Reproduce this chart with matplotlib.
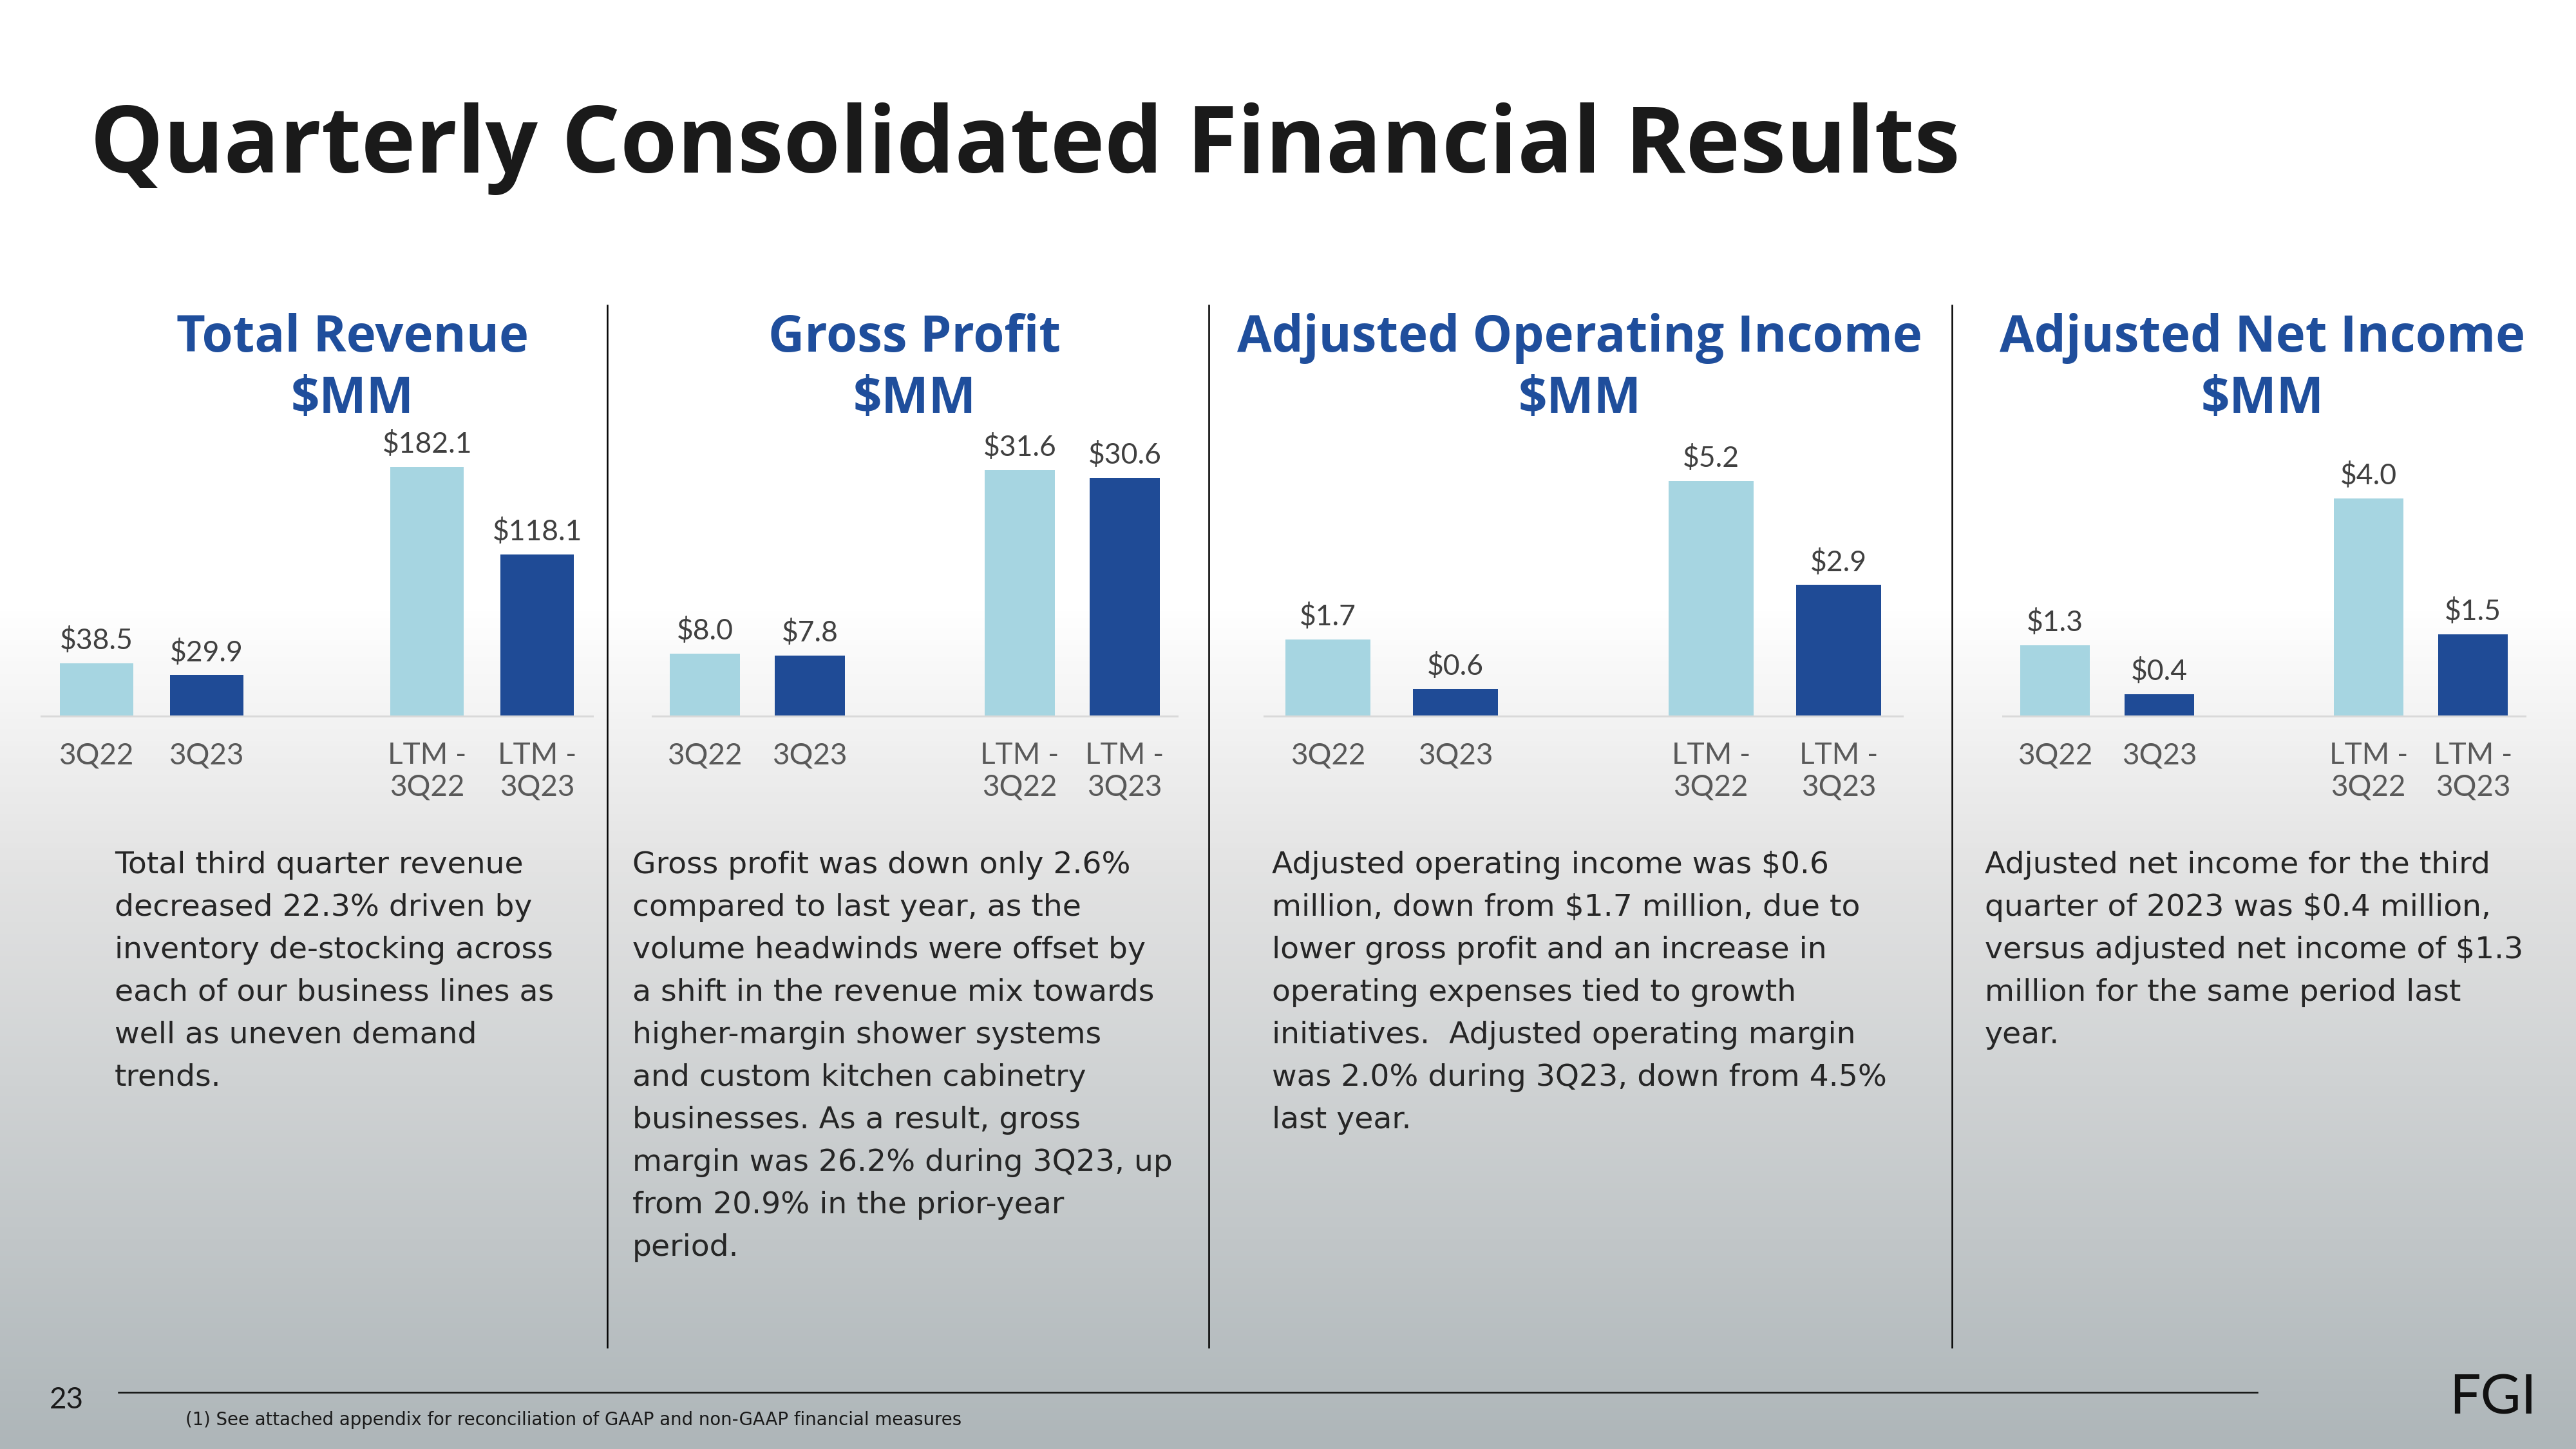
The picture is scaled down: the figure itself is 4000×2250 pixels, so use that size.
import numpy as np
import matplotlib
matplotlib.use('Agg')
from matplotlib import pyplot as plt
from matplotlib.colors import LinearSegmentedColormap
from matplotlib.lines import Line2D

plt.rcParams['font.family'] = ['Lato', 'DejaVu Sans']

# data (values in $MM)
periods = ['3Q22', '3Q23', 'LTM -\n3Q22', 'LTM -\n3Q23']
revenue = [38.5, 29.9, 182.1, 118.1]
gross_profit = [8.0, 7.8, 31.6, 30.6]
adj_op_income = [1.7, 0.6, 5.2, 2.9]
adj_net_income = [1.3, 0.4, 4.0, 1.5]

titles = ['Total Revenue', 'Gross Profit', 'Adjusted Operating Income', 'Adjusted Net Income']
unit = '$MM'

notes = [
    ['Total third quarter revenue',
     'decreased 22.3% driven by',
     'inventory de-stocking across',
     'each of our business lines as',
     'well as uneven demand',
     'trends.'],
    ['Gross profit was down only 2.6%',
     'compared to last year, as the',
     'volume headwinds were offset by',
     'a shift in the revenue mix towards',
     'higher-margin shower systems',
     'and custom kitchen cabinetry',
     'businesses. As a result, gross',
     'margin was 26.2% during 3Q23, up',
     'from 20.9% in the prior-year',
     'period.'],
    ['Adjusted operating income was $0.6',
     'million, down from $1.7 million, due to',
     'lower gross profit and an increase in',
     'operating expenses tied to growth',
     'initiatives.  Adjusted operating margin',
     'was 2.0% during 3Q23, down from 4.5%',
     'last year.'],
    ['Adjusted net income for the third',
     'quarter of 2023 was $0.4 million,',
     'versus adjusted net income of $1.3',
     'million for the same period last',
     'year.'],
]
footnote = '(1) See attached appendix for reconciliation of GAAP and non-GAAP financial measures'

# colours
light = '#a6d5e1'
dark = '#1f4b96'
blue = '#1f4e9c'

W, H = 4000, 2250


def fx(px):
    return px / W


def fy(py):
    return 1 - py / H


fig = plt.figure(figsize=(40, 22.5), dpi=100)

# fond degrade blanc -> gris
bg = fig.add_axes([0, 0, 1, 1], zorder=-10)
grad = np.linspace(0, 1, 600).reshape(-1, 1)
cmap = LinearSegmentedColormap.from_list(
    'bg', [(0, 'white'), (0.42, 'white'), (0.6, '#e3e3e3'), (1, '#aeb6b9')])
bg.imshow(grad, aspect='auto', cmap=cmap, extent=[0, 1, 0, 1], origin='upper')
bg.set_xlim(0, 1)
bg.set_ylim(0, 1)
bg.axis('off')

# titre
fig.text(fx(140), fy(268), 'Quarterly Consolidated Financial Results',
         fontsize=103, fontweight='bold', family='Open Sans', color='#1a1a1a',
         va='baseline')

# panneaux
series = [revenue, gross_profit, adj_op_income, adj_net_income]
ax_x = [(64, 920), (1013, 1828), (1963, 2954), (3110, 3921)]
ymax = [193.9, 34.1, 5.87, 4.88]
title_x = [547, 1420, 2453, 3513]
note_x = [178, 982, 1975, 3082]
base_y, top_y = 1112, 700
pos = [0, 1, 3, 4]

for i, vals in enumerate(series):
    x0, x1 = ax_x[i]
    ax = fig.add_axes([fx(x0), fy(base_y), (x1 - x0) / W, (base_y - top_y) / H])
    ax.patch.set_visible(False)
    bars = ax.bar(pos, vals, width=0.667, color=[light, dark, light, dark])
    ax.set_xlim(-0.5, 4.5)
    ax.set_ylim(0, ymax[i])
    for s in ['top', 'left', 'right']:
        ax.spines[s].set_visible(False)
    ax.spines['bottom'].set_color('#d9d9d9')
    ax.spines['bottom'].set_linewidth(2.2)
    ax.set_yticks([])
    ax.set_xticks(pos, periods)
    ax.tick_params(axis='x', length=0, pad=29, labelsize=33, labelcolor='#595959')
    ax.bar_label(bars, labels=[f'${v:.1f}' for v in vals], padding=10,
                 fontsize=32, color='#404040')

    fig.text(fx(title_x[i]), fy(546), titles[i], ha='center', va='baseline',
             fontsize=56, fontweight='bold', family='Open Sans', color=blue)
    fig.text(fx(title_x[i]), fy(641), unit, ha='center', va='baseline',
             fontsize=56, fontweight='bold', family='Open Sans', color=blue)

    for j, line in enumerate(notes[i]):
        fig.text(fx(note_x[i]), fy(1356 + j * 66), line, va='baseline',
                 fontsize=34, family='DejaVu Sans', color='#262626')

# separateurs verticaux
for x in [943, 1877, 3031]:
    fig.add_artist(Line2D([fx(x), fx(x)], [fy(474), fy(2092)], color='black', lw=1.8))

# pied de page
fig.add_artist(Line2D([fx(184), fx(3505)], [fy(2162), fy(2162)], color='#111111', lw=1.8))
fig.text(fx(77), fy(2187), '23', va='baseline', fontsize=33, color='#1a1a1a')
fig.text(fx(288), fy(2213), footnote, va='baseline', fontsize=19.8,
         family='DejaVu Sans', color='#1a1a1a')
fig.text(fx(3803), fy(2195), 'FGI', va='baseline', fontsize=62, color='#111111')

fig.savefig('out.png', dpi=100)
